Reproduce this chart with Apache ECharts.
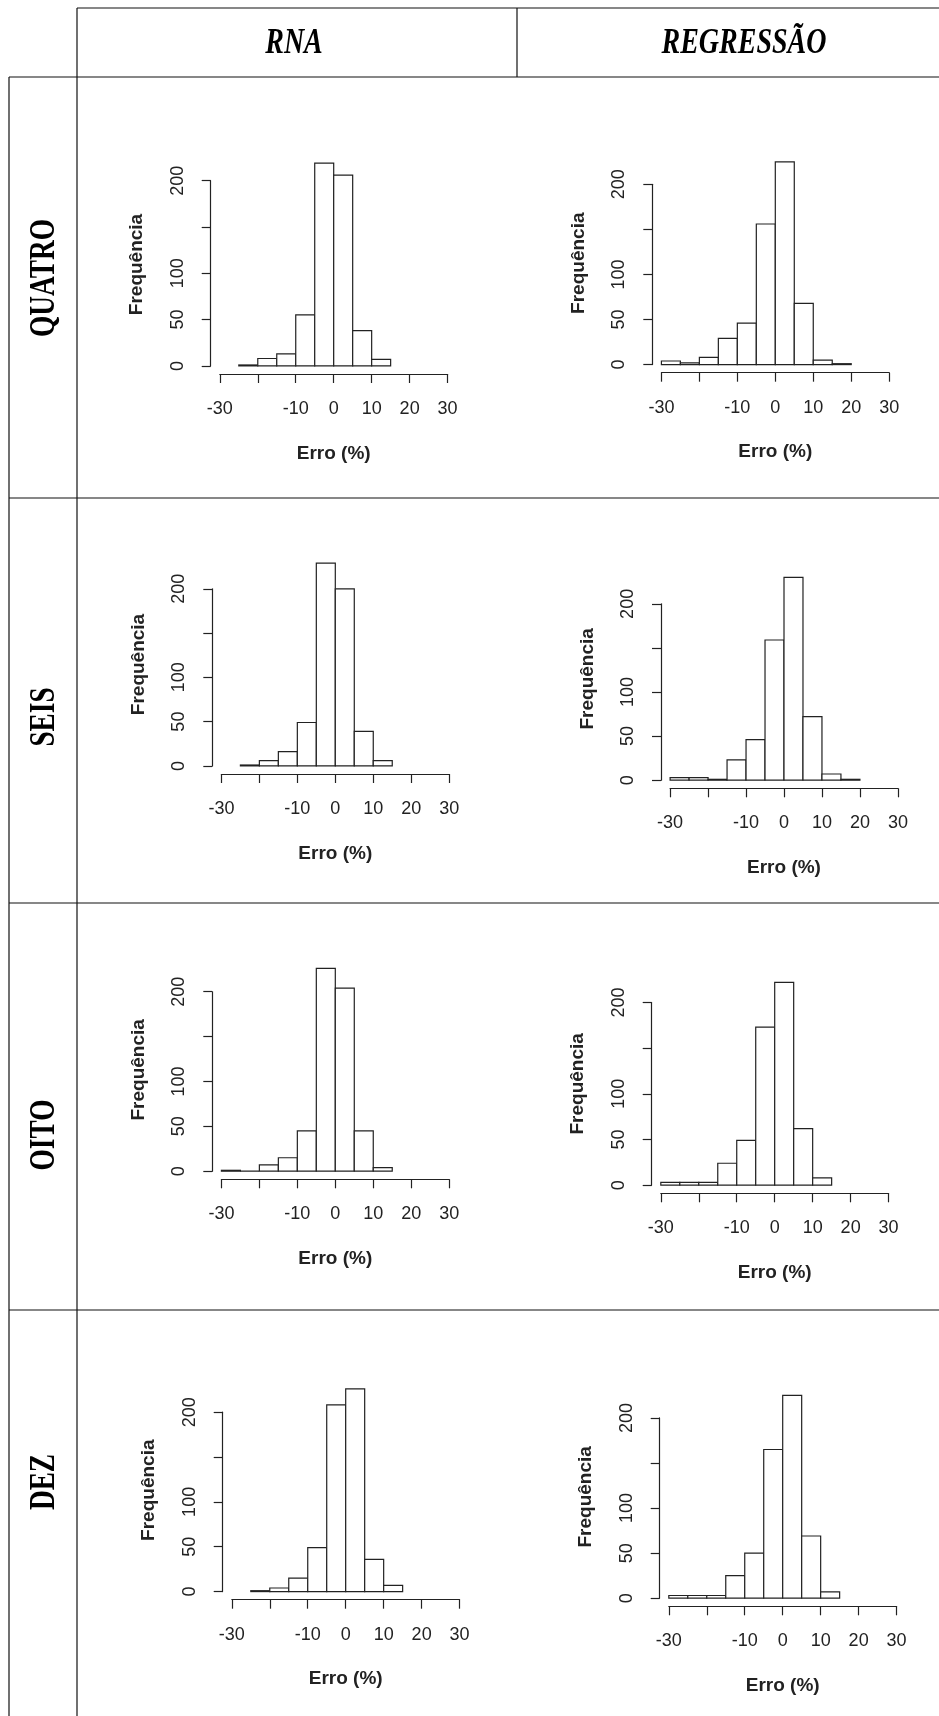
<!DOCTYPE html>
<html>
<head>
<meta charset="utf-8">
<script src="https://cdn.jsdelivr.net/npm/echarts@6/dist/echarts.min.js"></script>
<style>
html, body { margin: 0; padding: 0; background: #fff; }
#myChart { width: 939px; height: 1716px; }
</style>
</head>
<body>
<div id="myChart"></div>
<script>
// histogram breaks (Erro %) and counts per bin; null = bin outside the breaks of that histogram
const binEdges = [-30, -25, -20, -15, -10, -5, 0, 5, 10, 15, 20];
const rnaQuatro = [null, 1, 8, 13, 55, 219, 206, 38, 7, null];
const regQuatro = [4, 2, 8, 29, 46, 156, 225, 68, 5, 1];
const rnaSeis   = [null, 1, 6, 16, 49, 229, 200, 39, 6, null];
const regSeis   = [3, 3, 1, 23, 46, 159, 230, 72, 7, 1];
const rnaOito   = [1, 0, 7, 15, 45, 226, 204, 45, 4, null];
const regOito   = [3, 3, 3, 24, 49, 173, 222, 62, 8, null];
const rnaDez    = [null, 1, 4, 15, 49, 208, 226, 36, 7, null];
const regDez    = [3, 3, 3, 25, 50, 165, 225, 69, 7, null];

const xHiddenLabels = [-20]; // R drops labels that would overlap
const yHiddenLabels = [150];
const rowNames = ['QUATRO', 'SEIS', 'OITO', 'DEZ'];
const colNames = ['RNA', 'REGRESSÃO'];
const xTitle = 'Erro (%)';
const yTitle = 'Frequência';

// layout: left / bottom of each R plot region (px), row by row
const panelCounts = [rnaQuatro, regQuatro, rnaSeis, regSeis, rnaOito, regOito, rnaDez, regDez];
const panelBox = [
  [210.7, 374], [652.3, 372.7],
  [212.3, 774], [661, 788.3],
  [212.3, 1179.3], [651.7, 1193.3],
  [222.7, 1599.7], [659.7, 1606.3]
];
const plotW = 246, plotH = 219;  // R plot region size
const ext = 0.04;                // R axis extension ("r" style)
const ink = '#222';
const sans = '"Liberation Sans", Arial, sans-serif';
const serif = '"Liberation Serif", "Times New Roman", serif';

function renderBar(params, api) {
  const a = api.coord([api.value(0), 0]);
  const b = api.coord([api.value(1), api.value(2)]);
  return {
    type: 'rect',
    shape: { x: a[0], y: b[1], width: b[0] - a[0], height: a[1] - b[1] },
    style: { fill: '#fff', stroke: ink, lineWidth: 1.2 }
  };
}

const grids = [], xAxes = [], yAxes = [], series = [];
panelCounts.forEach(function (counts, i) {
  const maxC = Math.max.apply(null, counts.filter(c => c !== null));
  const L = panelBox[i][0], B = panelBox[i][1];
  const offX = plotH * ext / (1 + 2 * ext);   // gap between bar base and x axis
  const offY = plotW * ext / (1 + 2 * ext);   // gap between x=-30 and y axis
  const pxPerUnit = plotH / ((1 + 2 * ext) * maxC);
  const y0 = B - offX;
  const y200 = y0 - 200 * pxPerUnit;
  // R centres the y title on the whole plot region, not on 0..200
  const shift = (maxC / 2 - 100) * pxPerUnit;

  grids.push({ left: L + offY, top: y200, width: plotW / (1 + 2 * ext), height: y0 - y200 });
  xAxes.push({
    gridIndex: i, type: 'value', min: -30, max: 30, interval: 10, offset: offX,
    axisLine: { show: true, onZero: false, lineStyle: { color: ink, width: 1.2 } },
    axisTick: { show: true, length: 9, lineStyle: { color: ink, width: 1.2 } },
    axisLabel: { margin: 26, fontSize: 18, color: ink, fontFamily: sans,
      formatter: v => xHiddenLabels.indexOf(v) > -1 ? '' : String(v) },
    splitLine: { show: false },
    name: xTitle, nameLocation: 'middle', nameGap: 70,
    nameTextStyle: { fontSize: 19, fontWeight: 'bold', color: ink, fontFamily: sans }
  });
  yAxes.push({
    gridIndex: i, type: 'value', min: 0, max: 200, interval: 50, offset: offY,
    axisLine: { show: true, onZero: false, lineStyle: { color: ink, width: 1.2 } },
    axisTick: { show: true, length: 9, lineStyle: { color: ink, width: 1.2 } },
    axisLabel: { rotate: 90, margin: 24, fontSize: 18, color: ink, fontFamily: sans,
      formatter: v => yHiddenLabels.indexOf(v) > -1 ? '' : String(v) },
    splitLine: { show: false },
    name: yTitle, nameLocation: 'middle', nameGap: 64,
    nameTextStyle: { fontSize: 19, fontWeight: 'bold', color: ink, fontFamily: sans,
      padding: [0, 0, 0, 2 * shift] }
  });
  const data = [];
  counts.forEach(function (c, k) {
    if (c !== null) data.push([binEdges[k], binEdges[k + 1], c]);
  });
  series.push({
    type: 'custom', xAxisIndex: i, yAxisIndex: i, clip: false, silent: true,
    encode: { x: [0, 1], y: 2 }, renderItem: renderBar, data: data
  });
});

// table frame
const lineStyle = { stroke: '#111', lineWidth: 1.2 };
const rowLines = [77, 498, 903, 1310];
const graphics = [];
graphics.push({ type: 'line', shape: { x1: 77, y1: 8, x2: 939, y2: 8 }, style: lineStyle });
graphics.push({ type: 'line', shape: { x1: 77, y1: 8, x2: 77, y2: 1716 }, style: lineStyle });
graphics.push({ type: 'line', shape: { x1: 517, y1: 8, x2: 517, y2: 77 }, style: lineStyle });
graphics.push({ type: 'line', shape: { x1: 9, y1: 77, x2: 9, y2: 1716 }, style: lineStyle });
rowLines.forEach(function (y) {
  graphics.push({ type: 'line', shape: { x1: 9, y1: y, x2: 939, y2: y }, style: lineStyle });
});
const colCenters = [294, 744];
colNames.forEach(function (t, k) {
  graphics.push({ type: 'text', x: colCenters[k], y: 44, scaleX: 0.8,
    style: { text: t, fontSize: 35, fontWeight: 'bold', fontStyle: 'italic', fontFamily: serif,
      fill: '#000', align: 'center', verticalAlign: 'middle' } });
});
const rowCenters = [278, 717, 1135, 1482];
rowNames.forEach(function (t, k) {
  graphics.push({ type: 'text', x: 45, y: rowCenters[k], rotation: Math.PI / 2, scaleX: 0.78,
    style: { text: t, fontSize: 35, fontWeight: 'bold', fontFamily: serif,
      fill: '#000', align: 'center', verticalAlign: 'middle' } });
});

let myChart = echarts.init(document.getElementById('myChart'));
myChart.setOption({
  backgroundColor: '#fff',
  animation: false,
  grid: grids,
  xAxis: xAxes,
  yAxis: yAxes,
  series: series,
  graphic: graphics
});
</script>
</body>
</html>
